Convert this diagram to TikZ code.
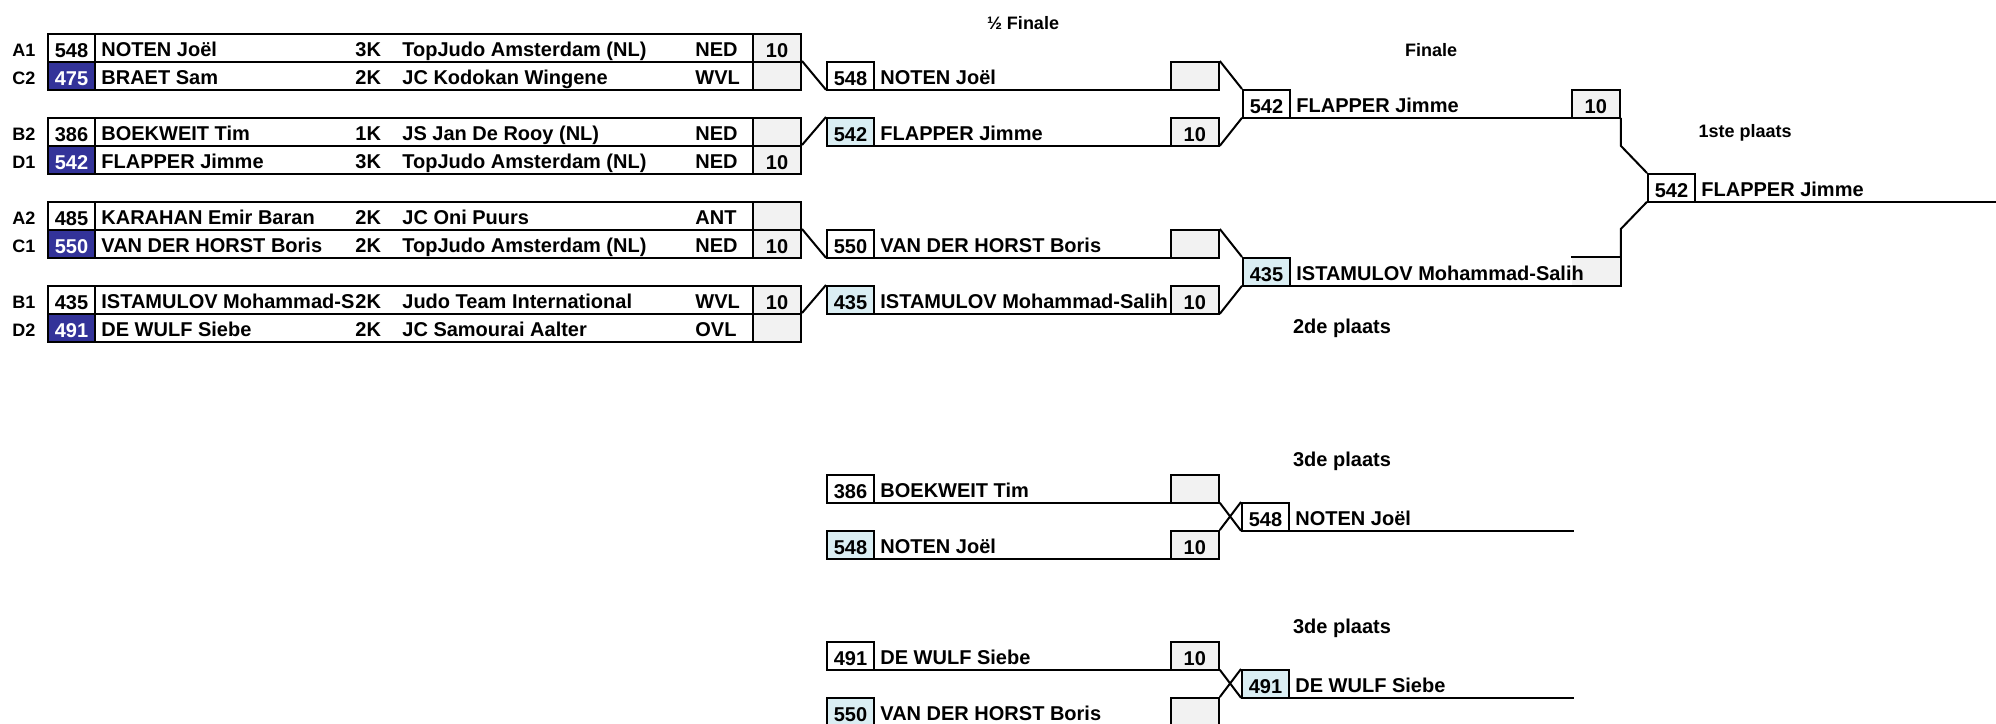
\documentclass[tikz,border=0pt]{standalone}
\usepackage{fontspec}
\setmainfont{Liberation Sans}
\usepackage{xcolor}

\definecolor{poolblue}{HTML}{333399}
\definecolor{seedblue}{HTML}{DAEEF3}
\definecolor{scoregray}{HTML}{F2F2F2}

\tikzset{
  every node/.style={font=\bfseries\fontsize{10}{12}\selectfont, inner sep=0pt},
  wire/.style={line width=1pt},
  row/.style={draw, line width=1pt, minimum width=376.5pt, minimum height=14pt, anchor=north west},
  lane/.style={minimum height=14pt, anchor=north west},
  field/.style={minimum height=14pt, anchor=north west, text height=9pt, text depth=0pt},
  numbox/.style={draw, line width=1pt, minimum width=23.5pt, minimum height=14pt,
    anchor=north west, text height=9pt, text depth=0pt},
  scorebox/.style={draw, fill=scoregray, line width=1pt, minimum width=24pt, minimum height=14pt,
    anchor=north east, text height=9pt, text depth=0pt},
  drawn/.style={fill=poolblue, text=white},
  seeded/.style={fill=seedblue},
  pool/.style={minimum height=14pt, anchor=north, text height=9pt, text depth=0pt,
    font=\bfseries\fontsize{9}{11}\selectfont},
  title/.style={font=\bfseries\fontsize{9}{11}\selectfont},
  rank/.style={font=\bfseries\fontsize{10}{12}\selectfont}
}

\begin{document}
\begin{tikzpicture}[x=0.5pt,y=-0.5pt]
  \useasboundingbox (0,0) rectangle (1996,723);

  % Titles
  \node[title] (semititle) at (1023,23) {½ Finale};
  \node[title] (finaltitle) at (1431,50) {Finale};
  \node[title] (firsttitle) at (1745,133) {1ste plaats};
  \node[rank] (secondtitle) at (1342,328) {2de plaats};
  \node[rank] (thirdtitleA) at (1342,461) {3de plaats};
  \node[rank] (thirdtitleB) at (1342,628) {3de plaats};

  % Round 1 - pool A1/C2
  \node[row] (a1) at (47,33) {};
  \node[numbox] (a1n) at (a1.north west) {548};
  \node[field] at ([xshift=2.5pt]a1n.north east) {NOTEN Joël};
  \node[field] at (355,33) {3K};
  \node[field] at (402,33) {TopJudo Amsterdam (NL)};
  \node[field] at (695,33) {NED};
  \node[scorebox] (a1s) at (a1.north east) {10};
  \node[pool] at (24,33) {A1};

  \node[row] (c2) at (47,61) {};
  \node[numbox,drawn] (c2n) at (c2.north west) {475};
  \node[field] at ([xshift=2.5pt]c2n.north east) {BRAET Sam};
  \node[field] at (355,61) {2K};
  \node[field] at (402,61) {JC Kodokan Wingene};
  \node[field] at (695,61) {WVL};
  \node[scorebox] (c2s) at (c2.north east) {};
  \node[pool] at (24,61) {C2};

  % Round 1 - pool B2/D1
  \node[row] (b2) at (47,117) {};
  \node[numbox] (b2n) at (b2.north west) {386};
  \node[field] at ([xshift=2.5pt]b2n.north east) {BOEKWEIT Tim};
  \node[field] at (355,117) {1K};
  \node[field] at (402,117) {JS Jan De Rooy (NL)};
  \node[field] at (695,117) {NED};
  \node[scorebox] (b2s) at (b2.north east) {};
  \node[pool] at (24,117) {B2};

  \node[row] (d1) at (47,145) {};
  \node[numbox,drawn] (d1n) at (d1.north west) {542};
  \node[field] at ([xshift=2.5pt]d1n.north east) {FLAPPER Jimme};
  \node[field] at (355,145) {3K};
  \node[field] at (402,145) {TopJudo Amsterdam (NL)};
  \node[field] at (695,145) {NED};
  \node[scorebox] (d1s) at (d1.north east) {10};
  \node[pool] at (24,145) {D1};

  % Round 1 - pool A2/C1
  \node[row] (a2) at (47,201) {};
  \node[numbox] (a2n) at (a2.north west) {485};
  \node[field] at ([xshift=2.5pt]a2n.north east) {KARAHAN Emir Baran};
  \node[field] at (355,201) {2K};
  \node[field] at (402,201) {JC Oni Puurs};
  \node[field] at (695,201) {ANT};
  \node[scorebox] (a2s) at (a2.north east) {};
  \node[pool] at (24,201) {A2};

  \node[row] (c1) at (47,229) {};
  \node[numbox,drawn] (c1n) at (c1.north west) {550};
  \node[field] at ([xshift=2.5pt]c1n.north east) {VAN DER HORST Boris};
  \node[field] at (355,229) {2K};
  \node[field] at (402,229) {TopJudo Amsterdam (NL)};
  \node[field] at (695,229) {NED};
  \node[scorebox] (c1s) at (c1.north east) {10};
  \node[pool] at (24,229) {C1};

  % Round 1 - pool B1/D2
  \node[row] (b1) at (47,285) {};
  \node[numbox] (b1n) at (b1.north west) {435};
  \node[field] at ([xshift=2.5pt]b1n.north east) {ISTAMULOV Mohammad-S};
  \node[field] at (355,285) {2K};
  \node[field] at (402,285) {Judo Team International};
  \node[field] at (695,285) {WVL};
  \node[scorebox] (b1s) at (b1.north east) {10};
  \node[pool] at (24,285) {B1};

  \node[row] (d2) at (47,313) {};
  \node[numbox,drawn] (d2n) at (d2.north west) {491};
  \node[field] at ([xshift=2.5pt]d2n.north east) {DE WULF Siebe};
  \node[field] at (355,313) {2K};
  \node[field] at (402,313) {JC Samourai Aalter};
  \node[field] at (695,313) {OVL};
  \node[scorebox] (d2s) at (d2.north east) {};
  \node[pool] at (24,313) {D2};

  % Semi finals
  \node[lane, minimum width=196.5pt] (s1) at (826,61) {};
  \draw[wire] (s1.south west) -- (s1.south east);
  \node[numbox] (s1n) at (s1.north west) {548};
  \node[field] at ([xshift=2.5pt]s1n.north east) {NOTEN Joël};
  \node[scorebox] (s1s) at (s1.north east) {};

  \node[lane, minimum width=196.5pt] (s2) at (826,117) {};
  \draw[wire] (s2.south west) -- (s2.south east);
  \node[numbox,seeded] (s2n) at (s2.north west) {542};
  \node[field] at ([xshift=2.5pt]s2n.north east) {FLAPPER Jimme};
  \node[scorebox] (s2s) at (s2.north east) {10};

  \node[lane, minimum width=196.5pt] (s3) at (826,229) {};
  \draw[wire] (s3.south west) -- (s3.south east);
  \node[numbox] (s3n) at (s3.north west) {550};
  \node[field] at ([xshift=2.5pt]s3n.north east) {VAN DER HORST Boris};
  \node[scorebox] (s3s) at (s3.north east) {};

  \node[lane, minimum width=196.5pt] (s4) at (826,285) {};
  \draw[wire] (s4.south west) -- (s4.south east);
  \node[numbox,seeded] (s4n) at (s4.north west) {435};
  \node[field] at ([xshift=2.5pt]s4n.north east) {ISTAMULOV Mohammad-Salih};
  \node[scorebox] (s4s) at (s4.north east) {10};

  % Round 1 -> semi finals
  \draw[wire] (c2.north east) -- (s1.south west);
  \draw[wire] (d1.north east) -- (s2.north west);
  \draw[wire] (c1.north east) -- (s3.south west);
  \draw[wire] (d2.north east) -- (s4.north west);

  % Final
  \node[lane, minimum width=189pt] (f1) at (1242,89) {};
  \draw[wire] (f1.south west) -- (f1.south east);
  \node[numbox] (f1n) at (f1.north west) {542};
  \node[field] at ([xshift=2.5pt]f1n.north east) {FLAPPER Jimme};
  \node[scorebox] (f1s) at (f1.north east) {10};

  \node[lane, minimum width=189pt] (f2) at (1242,257) {};
  \node[scorebox, draw=none] (f2s) at (f2.north east) {};
  \draw[wire] (f2s.north west) -- (f2s.north east) -- (f2s.south east);
  \draw[wire] (f2.south west) -- (f2.south east);
  \node[numbox,seeded] (f2n) at (f2.north west) {435};
  \node[field] at ([xshift=2.5pt]f2n.north east) {ISTAMULOV Mohammad-Salih};

  % Semi finals -> final
  \draw[wire] (s1.north east) -- (f1.north west);
  \draw[wire] (s2.south east) -- (f1.south west);
  \draw[wire] (s3.north east) -- (f2.north west);
  \draw[wire] (s4.south east) -- (f2.south west);

  % Winner
  \node[lane, minimum width=174.5pt] (w) at (1647,173) {};
  \draw[wire] (w.south west) -- (w.south east);
  \node[numbox] (wn) at (w.north west) {542};
  \node[field] at ([xshift=2.5pt]wn.north east) {FLAPPER Jimme};

  \draw[wire] (f1.south east) -- ++(0,28) -- (w.north west);
  \draw[wire] (f2.north east) -- ++(0,-28) -- (w.south west);

  % Bronze 1
  \node[lane, minimum width=196.5pt] (r1) at (826,474) {};
  \draw[wire] (r1.south west) -- (r1.south east);
  \node[numbox] (r1n) at (r1.north west) {386};
  \node[field] at ([xshift=2.5pt]r1n.north east) {BOEKWEIT Tim};
  \node[scorebox] (r1s) at (r1.north east) {};

  \node[lane, minimum width=196.5pt] (r2) at (826,530) {};
  \draw[wire] (r2.south west) -- (r2.south east);
  \node[numbox,seeded] (r2n) at (r2.north west) {548};
  \node[field] at ([xshift=2.5pt]r2n.north east) {NOTEN Joël};
  \node[scorebox] (r2s) at (r2.north east) {10};

  \node[lane, minimum width=166pt] (t1) at (1241,502) {};
  \draw[wire] (t1.south west) -- (t1.south east);
  \node[numbox] (t1n) at (t1.north west) {548};
  \node[field] at ([xshift=2.5pt]t1n.north east) {NOTEN Joël};

  \draw[wire] (r1.south east) -- (t1.south west);
  \draw[wire] (r2.north east) -- (t1.north west);

  % Bronze 2
  \node[lane, minimum width=196.5pt] (r3) at (826,641) {};
  \draw[wire] (r3.south west) -- (r3.south east);
  \node[numbox] (r3n) at (r3.north west) {491};
  \node[field] at ([xshift=2.5pt]r3n.north east) {DE WULF Siebe};
  \node[scorebox] (r3s) at (r3.north east) {10};

  \node[lane, minimum width=196.5pt] (r4) at (826,697) {};
  \draw[wire] (r4.south west) -- (r4.south east);
  \node[numbox,seeded] (r4n) at (r4.north west) {550};
  \node[field] at ([xshift=2.5pt]r4n.north east) {VAN DER HORST Boris};
  \node[scorebox] (r4s) at (r4.north east) {};

  \node[lane, minimum width=166pt] (t2) at (1241,669) {};
  \draw[wire] (t2.south west) -- (t2.south east);
  \node[numbox,seeded] (t2n) at (t2.north west) {491};
  \node[field] at ([xshift=2.5pt]t2n.north east) {DE WULF Siebe};

  \draw[wire] (r3.south east) -- (t2.south west);
  \draw[wire] (r4.north east) -- (t2.north west);

\end{tikzpicture}
\end{document}
